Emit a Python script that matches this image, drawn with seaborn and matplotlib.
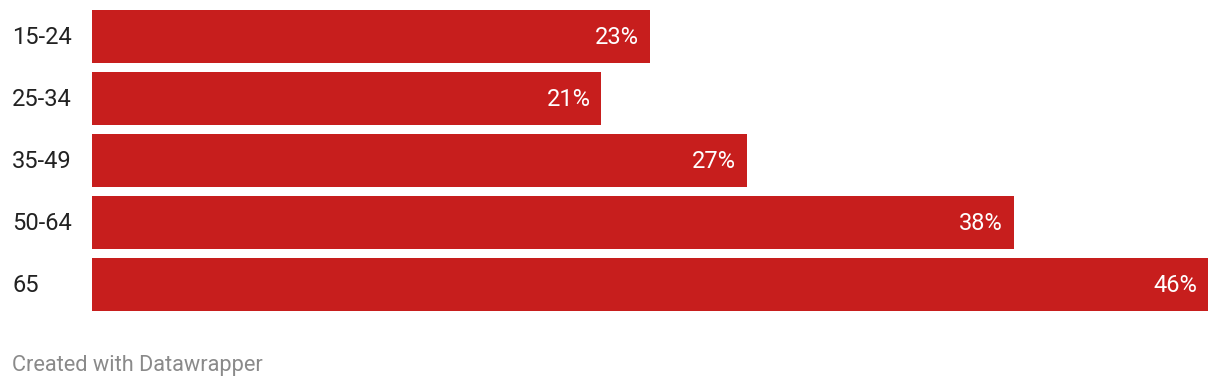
import matplotlib
matplotlib.use("Agg")
import matplotlib.pyplot as plt
import seaborn as sns
import pandas as pd

categories = ["15-24", "25-34", "35-49", "50-64", "65"]
values = [23, 21, 27, 38, 46]
value_labels = ["23%", "21%", "27%", "38%", "46%"]

sns.set_theme(style="white")
plt.rcParams['font.family'] = ['Roboto', 'DejaVu Sans']

W, H = 1220, 388
fig = plt.figure(figsize=(W / 100, H / 100), dpi=100)
left, right, top, bottom = 92, 1208, 10, 311
ax = fig.add_axes([left / W, 1 - bottom / H, (right - left) / W, (bottom - top) / H])

df = pd.DataFrame({"age": categories, "value": values})
width = 53 / 62
sns.barplot(data=df, y="age", x="value", color="#c71e1d", saturation=1,
            width=width, ax=ax, orient="h", linewidth=0, edgecolor="none")

half = width / 2
ax.set_ylim(len(categories) - 1 + half, -half)
ax.set_xlim(0, max(values))
for s in ax.spines.values():
    s.set_visible(False)
ax.set_xticks([])
ax.set_yticks([])
ax.set_xlabel("")
ax.set_ylabel("")

px_per_unit = (right - left) / max(values)
for i, (v, lab) in enumerate(zip(values, value_labels)):
    ax.text(v - 11 / px_per_unit, i + 0.02, lab, ha="right", va="center",
            color="white", fontsize=17)
    fig.text(12 / W, 1 - (top + 27.5 + 62 * i) / H, categories[i], ha="left", va="center",
             color="#222222", fontsize=17)

fig.text(12 / W, 1 - 366 / H, "Created with Datawrapper", ha="left", va="center",
         color="#8a8a8a", fontsize=15.7)

fig.savefig("out.png", dpi=100)
